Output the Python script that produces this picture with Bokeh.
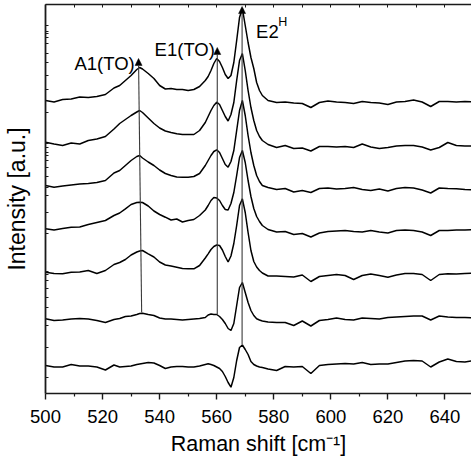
from bokeh.plotting import figure
from bokeh.models import Range1d, LinearAxis, FixedTicker, Arrow, NormalHead, ColumnDataSource
from bokeh.embed import file_html
from bokeh.resources import INLINE
from bokeh.core.properties import value

# Raman shift grid [cm^-1]
shift = [500, 503, 506, 509, 512, 515, 518, 521, 524,
         526, 528, 530, 532, 533, 534, 536, 538, 540,
         542, 544, 546, 548, 550, 552, 554,
         556, 557, 558, 559, 560, 561, 562, 563, 564, 565, 566, 567, 568, 569, 570,
         571, 572, 573, 574, 575, 576,
         578, 581, 584, 587, 590, 593, 596, 599, 602, 605, 608, 611, 614, 617, 620,
         623, 626, 629, 632, 635, 638, 641, 644, 647, 650]

# stacked spectra (intensity incl. vertical offset, a.u.), top to bottom
trace_1 = [300, 298.5, 301, 301.5, 303.5, 303, 304, 306, 312.5,
           315, 320, 325, 331, 333, 331.5, 327, 322, 315,
           311.5, 312, 311, 311, 310, 311, 314,
           320, 324, 330, 337, 342, 339, 333, 326, 322, 325, 338, 360, 383, 392, 375,
           358, 343, 332, 318, 310, 305,
           300, 298, 298.5, 297.5, 297, 293, 298, 299.5, 298.5, 298, 297, 299, 298, 297.5, 296,
           298.5, 299, 300.5, 298.5, 294, 299, 299, 298.5, 299, 298.5]
trace_2 = [258.3, 256.5, 255, 257.5, 256.5, 260, 261.5, 264, 271.5,
           277, 281, 285, 288.5, 290, 288, 282.5, 277, 272.5,
           269.5, 268, 266.7, 266, 266, 266, 270,
           278, 284, 290, 295, 298.3, 296, 290, 284, 279.5, 286, 298, 320, 340, 347, 330,
           310, 293, 280, 270, 264, 260,
           256, 253, 255, 252, 252.5, 249.5, 254, 254, 253.5, 254, 253, 256.5, 253.5, 252, 253,
           254.5, 255, 255, 253.5, 250.5, 253, 258, 255, 254.5, 254.5]
trace_3 = [215, 213.3, 214.5, 215.5, 216.5, 217, 218, 220, 227.5,
           230, 235, 240, 244, 245, 242.5, 238.5, 235, 230.5,
           227, 225, 223.5, 223.3, 223.3, 224, 227,
           235, 240, 245, 249, 250.7, 248, 242, 236, 233.3, 239, 250, 270, 290, 300, 285,
           265, 248, 235, 225, 219, 215,
           213, 211, 212, 208.5, 210, 208, 212, 212.5, 211.5, 212, 213, 211, 210, 211.5, 209.5,
           212, 213, 212.5, 210.5, 207.5, 212.5, 212, 211.7, 211, 210.7]
trace_4 = [171.7, 170.5, 172, 173.3, 173.5, 176, 178, 180, 185,
           187.5, 191.7, 196, 198, 198.3, 198, 194.5, 189.5, 186,
           183.3, 180.5, 181.5, 178.5, 180, 181, 185,
           190.5, 195, 200, 203, 202.5, 200, 195, 191, 190.5, 197, 208, 225, 243, 250, 238,
           220, 204, 192, 184, 179, 175,
           171, 168.5, 169, 166, 167, 163.5, 167.5, 169, 169.5, 170, 169, 168.5, 170, 168.5, 167.5,
           170, 170.5, 170, 168.5, 165, 170, 170, 170.5, 170.5, 170.7]
trace_5 = [128.3, 127, 126.7, 128.3, 128.5, 130, 127, 130, 136,
           138, 141, 145.5, 148.5, 149.5, 150, 146.7, 143.5, 138.5,
           135.5, 134.5, 133.3, 132, 131.7, 131.7, 135,
           142.5, 146.7, 151, 154, 155.5, 155, 150.5, 144, 138.5, 144.5, 157, 175, 195, 201.7, 188,
           168, 150, 139, 133.5, 130, 127.5,
           124.5, 124.5, 124, 123.5, 125.5, 119, 124, 125, 126, 125, 121, 125, 126.5, 125, 123.3,
           125.5, 127, 127, 126, 120, 126, 126.7, 126.5, 127, 127.3]
trace_6 = [81.7, 80, 80.5, 81.5, 82, 81.5, 80, 78, 81,
           82, 84, 84.5, 86, 87, 87.3, 86, 85, 82.5,
           81.5, 81.5, 81, 80.5, 81, 81.5, 82,
           83, 85.5, 86.5, 86, 86, 84, 81, 77, 72, 70, 77, 95, 113, 118, 108,
           98, 90, 85, 81.7, 80.5, 79.5,
           78.5, 78, 78, 75, 79.5, 74.5, 80, 81, 82.5, 81, 80.5, 82.5, 82, 81.5, 83,
           83.5, 84, 84.5, 84.5, 80.5, 84.5, 83.5, 83, 83, 82.7]
trace_7 = [35, 33.5, 33.5, 36, 34.5, 34.5, 33.5, 30.5, 35.5,
           33.5, 34, 34.5, 36, 36.5, 37, 38, 37.5, 35,
           32, 33.5, 34, 34, 33.5, 33.5, 34.5,
           36, 36.7, 36, 35, 33.5, 32, 29, 24, 18, 13.3, 23, 40, 53, 55.5, 51,
           46, 39, 36, 34.5, 33.5, 33,
           31.5, 30, 34, 33.5, 34, 27, 35, 36, 36.5, 37, 36.5, 38, 36, 36.5, 36.5,
           38, 39.5, 40, 39.5, 33.5, 38.5, 41.5, 39, 38.5, 40]
traces = [trace_1, trace_2, trace_3, trace_4, trace_5, trace_6, trace_7]

# axis ticks
x_ticks = [500, 520, 540, 560, 580, 600, 620, 640]
x_minor = [510, 530, 550, 570, 590, 610, 630, 650]
y_minor = [375, 369.3, 366.7, 362.7, 356.7, 347.3, 338, 325.3, 310.7, 288.3,
           257.3, 253.3, 248.3, 245, 240, 233.3, 224.3, 213.3, 205, 188.3, 166.7,
           129.3, 126, 120, 111.7, 102.7, 92.7, 75, 53.3, 23.3]

# mode markers: peak position lines (bottom -> top)
mode_x_bottom = [533.7, 560.2, 568.9]
mode_x_top = [532.6, 560.2, 568.9]
mode_y_bottom = [88, 86, 56]
mode_y_top = [342, 353, 394]

# mode labels
label_text = ["A1(TO)", "E1(TO)"]
label_x = [520.7, 548.8]
label_y = [337, 350.7]
e2_text = ["E2"]
e2_x = [573.8]
e2_y = [369.3]
e2_sup = ["H"]
e2_sup_x = [581.6]
e2_sup_y = [378.3]

FONT = "Liberation Sans"
AX = "#1a1a1a"

p = figure(width=471, height=459, output_backend="svg", toolbar_location=None,
           x_range=Range1d(500, 649.3), y_range=Range1d(7, 396),
           min_border_left=43, min_border_right=0, min_border_top=4, min_border_bottom=66)
p.outline_line_color = None
p.grid.visible = False

for t in traces:
    p.line(shift, t, line_color="black", line_width=1.5)

src = ColumnDataSource(dict(x0=mode_x_bottom, y0=mode_y_bottom, x1=mode_x_top, y1=mode_y_top))
p.add_layout(Arrow(end=NormalHead(size=7, line_color="black", line_width=0.5, fill_color="black"),
                   x_start="x0", y_start="y0", x_end="x1", y_end="y1", source=src,
                   line_color="#3a3a3a", line_width=1.1))

p.text(x=label_x, y=label_y, text=label_text, text_font=value(FONT), text_font_size="18.5px",
       text_align="center", text_baseline="alphabetic", text_color="black")
p.text(x=e2_x, y=e2_y, text=e2_text, text_font=value(FONT), text_font_size="18.5px",
       text_align="left", text_baseline="alphabetic", text_color="black")
p.text(x=e2_sup_x, y=e2_sup_y, text=e2_sup, text_font=value(FONT), text_font_size="12.5px",
       text_align="left", text_baseline="alphabetic", text_color="black")

# bottom axis
xa = p.xaxis[0]
xa.ticker = FixedTicker(ticks=x_ticks, minor_ticks=x_minor)
xa.axis_label = "Raman shift [cm\u207b\u00b9]"
xa.axis_label_text_font = FONT
xa.axis_label_text_font_size = "21.5px"
xa.axis_label_text_font_style = "normal"
xa.axis_label_text_color = "black"
xa.axis_label_text_line_height = 1.0
xa.axis_label_standoff = 6
xa.major_label_text_font = FONT
xa.major_label_text_font_size = "18.5px"
xa.major_label_text_color = "black"
xa.major_label_text_line_height = 1.0
xa.major_label_standoff = 10
xa.major_tick_out = 6
xa.major_tick_in = 0
xa.minor_tick_out = 3
xa.minor_tick_in = 0
xa.axis_line_width = 1.6
xa.axis_line_color = AX
xa.major_tick_line_color = AX
xa.minor_tick_line_color = AX
xa.major_tick_line_width = 1.4
xa.minor_tick_line_width = 1.2

# left axis
ya = p.yaxis[0]
ya.ticker = FixedTicker(ticks=[], minor_ticks=y_minor)
ya.axis_label = "Intensity [a.u.]"
ya.axis_label_text_font = FONT
ya.axis_label_text_font_size = "23px"
ya.axis_label_text_font_style = "normal"
ya.axis_label_text_color = "black"
ya.axis_label_text_line_height = 1.0
ya.axis_label_standoff = 16
ya.major_label_standoff = 0
ya.major_tick_out = 0
ya.major_tick_in = 0
ya.minor_tick_in = 3
ya.minor_tick_out = 0
ya.axis_line_width = 1.8
ya.axis_line_color = AX
ya.minor_tick_line_color = AX
ya.minor_tick_line_width = 1.0

# top frame axis with inward ticks
top = LinearAxis(ticker=FixedTicker(ticks=[], minor_ticks=x_ticks + x_minor),
                 major_label_standoff=0, major_tick_in=0, major_tick_out=0,
                 minor_tick_in=3, minor_tick_out=0, axis_line_width=1.6,
                 axis_line_color=AX, minor_tick_line_color=AX, minor_tick_line_width=1.0)
p.add_layout(top, "above")

open("out.html", "w").write(file_html(p, INLINE))
